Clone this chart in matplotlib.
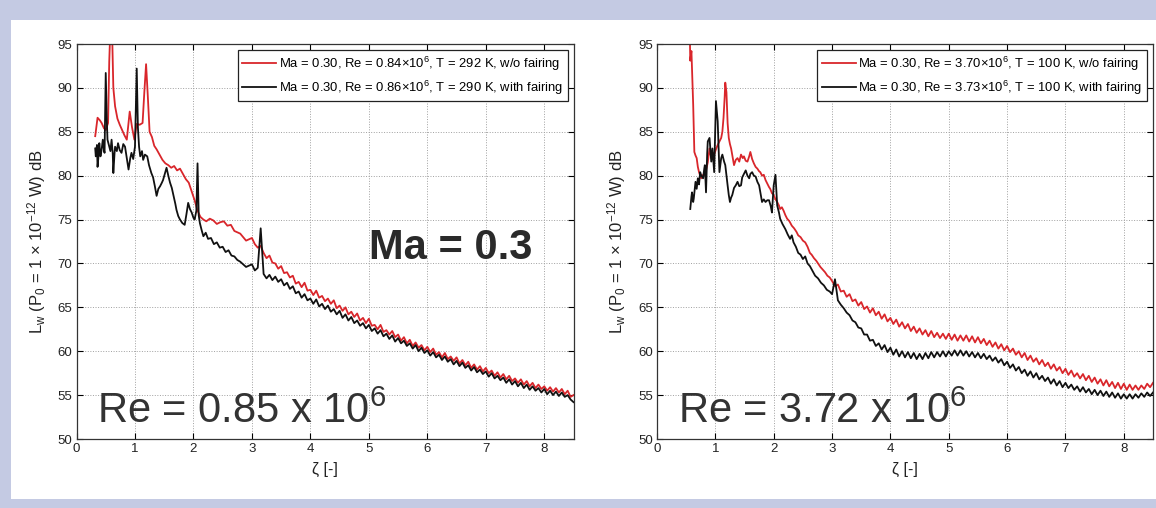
import matplotlib
matplotlib.use("Agg")
import matplotlib.pyplot as plt
from matplotlib.patches import Rectangle

plt.rcParams['font.family'] = ['Liberation Sans', 'DejaVu Sans']
plt.rcParams['mathtext.default'] = 'regular'

# ---- data (zeta [-], L_w [dB]) ----
# low-zeta part of each curve, irregular spacing around the tonal peaks
z_red_l = [0.32, 0.36, 0.40, 0.43, 0.47, 0.50, 0.54, 0.56, 0.58, 0.61, 0.63, 0.66, 0.70, 0.74, 0.78,
           0.82, 0.86, 0.91, 0.95, 0.99, 1.03, 1.08, 1.13, 1.16, 1.19, 1.22, 1.25, 1.29, 1.33, 1.37,
           1.42, 1.47, 1.52, 1.57, 1.62, 1.67, 1.72, 1.77, 1.82, 1.87, 1.92, 1.97, 2.02, 2.07, 2.12,
           2.17, 2.22, 2.28, 2.34, 2.40, 2.46, 2.52, 2.58, 2.64, 2.70, 2.80, 2.90]
L_red_l = [84.5, 86.6, 86.3, 86.0, 85.4, 85.2, 86.0, 93.0, 97.0, 96.0, 90.0, 87.9, 86.5, 85.8, 85.2,
           84.6, 84.1, 87.3, 85.5, 84.1, 85.9, 85.8, 86.0, 89.5, 92.7, 89.0, 85.0, 84.4, 83.4, 83.0,
           82.4, 81.8, 81.4, 81.2, 80.9, 81.1, 80.6, 80.8, 80.2, 79.6, 79.2, 78.2, 77.2, 76.0, 75.3,
           75.0, 74.8, 75.1, 74.9, 74.5, 74.7, 74.8, 74.3, 74.4, 73.7, 73.4, 72.6]

z_blk_l = [0.32, 0.33, 0.35, 0.36, 0.38, 0.39, 0.41, 0.43, 0.45, 0.47, 0.48, 0.50, 0.52, 0.53, 0.56,
           0.58, 0.60, 0.62, 0.63, 0.65, 0.66, 0.69, 0.71, 0.74, 0.77, 0.80, 0.83, 0.86, 0.89, 0.92,
           0.94, 0.97, 1.00, 1.03, 1.05, 1.07, 1.09, 1.12, 1.14, 1.17, 1.21, 1.24, 1.28, 1.31, 1.34,
           1.37, 1.40, 1.43, 1.46, 1.48, 1.51, 1.54, 1.57, 1.60, 1.63, 1.66, 1.69, 1.71, 1.74, 1.77,
           1.81, 1.85, 1.88, 1.91, 1.94, 1.97, 2.00, 2.02, 2.05, 2.07, 2.09, 2.11, 2.14, 2.17, 2.21,
           2.25, 2.30, 2.35, 2.40, 2.45, 2.50, 2.55, 2.60, 2.65, 2.70, 2.75, 2.80, 2.90]
L_blk_l = [83.1, 82.2, 83.5, 81.0, 82.5, 83.7, 82.2, 83.0, 84.1, 82.9, 82.6, 91.7, 86.0, 84.1, 83.3,
           82.8, 84.1, 82.5, 80.3, 82.5, 83.3, 82.8, 83.7, 82.9, 82.6, 83.6, 83.3, 82.0, 80.7, 82.0,
           82.6, 81.9, 83.3, 92.2, 85.5, 83.3, 82.2, 82.8, 81.8, 82.4, 82.2, 81.2, 80.3, 79.8, 78.8,
           77.7, 78.5, 78.8, 79.2, 79.5, 80.2, 80.9, 80.0, 79.2, 78.6, 77.7, 76.8, 76.1, 75.4, 75.0,
           74.6, 74.4, 75.6, 76.9, 76.2, 75.8, 75.2, 75.0, 76.0, 81.4, 75.5, 74.6, 73.8, 73.1, 73.5,
           72.8, 72.9, 72.2, 72.4, 71.8, 71.9, 71.3, 71.5, 70.9, 70.8, 70.4, 70.2, 69.6]

z_red_r = [0.56, 0.57, 0.59, 0.61, 0.62, 0.64, 0.66, 0.68, 0.70, 0.72, 0.74, 0.76, 0.79, 0.82, 0.84,
           0.87, 0.90, 0.93, 0.96, 0.98, 1.01, 1.04, 1.07, 1.10, 1.12, 1.14, 1.16, 1.17, 1.19, 1.21,
           1.23, 1.25, 1.27, 1.30, 1.32, 1.35, 1.38, 1.41, 1.44, 1.47, 1.49, 1.52, 1.55, 1.58, 1.60,
           1.63, 1.66, 1.69, 1.72, 1.75, 1.77, 1.80, 1.83, 1.86, 1.89, 1.92, 1.94, 1.97, 2.00, 2.03,
           2.06, 2.09, 2.11, 2.14, 2.17, 2.20, 2.23, 2.27, 2.31, 2.35, 2.39, 2.42, 2.46, 2.50, 2.54,
           2.58, 2.62, 2.65, 2.69, 2.73, 2.76, 2.80, 2.84, 2.88, 2.92, 2.96]
L_red_r = [97.0, 93.1, 94.2, 90.0, 88.1, 82.7, 82.3, 82.0, 81.0, 80.4, 80.0, 79.7, 80.1, 80.3, 80.6,
           81.5, 83.1, 82.0, 82.6, 82.4, 83.0, 83.5, 83.9, 84.3, 85.0, 86.6, 89.0, 90.6, 89.5, 86.0,
           84.3, 83.6, 83.1, 82.0, 81.2, 81.8, 82.0, 81.6, 82.4, 82.0, 82.2, 81.7, 81.6, 82.2, 82.7,
           81.9, 81.4, 81.0, 80.8, 80.5, 80.4, 80.0, 80.1, 79.5, 79.1, 78.7, 78.5, 78.0, 77.8, 77.3,
           77.0, 76.6, 76.2, 76.4, 76.0, 75.5, 75.1, 74.8, 74.3, 74.0, 73.6, 73.2, 73.0, 72.6, 72.4,
           71.9, 71.2, 71.0, 70.6, 70.3, 70.0, 69.6, 69.3, 69.0, 68.6, 68.4]

z_blk_r = [0.57, 0.59, 0.60, 0.62, 0.63, 0.65, 0.66, 0.68, 0.70, 0.72, 0.74, 0.76, 0.79, 0.81, 0.82,
           0.84, 0.86, 0.87, 0.90, 0.93, 0.95, 0.98, 1.01, 1.04, 1.07, 1.10, 1.12, 1.15, 1.17, 1.19,
           1.21, 1.23, 1.25, 1.27, 1.29, 1.32, 1.35, 1.38, 1.41, 1.44, 1.46, 1.49, 1.52, 1.55, 1.58,
           1.60, 1.63, 1.66, 1.69, 1.72, 1.75, 1.78, 1.80, 1.83, 1.86, 1.89, 1.92, 1.95, 1.97, 2.00,
           2.03, 2.06, 2.09, 2.11, 2.15, 2.20, 2.24, 2.28, 2.31, 2.34, 2.38, 2.42, 2.46, 2.50, 2.54,
           2.58, 2.62, 2.66, 2.71, 2.76, 2.81, 2.86, 2.91, 2.96]
L_blk_r = [76.2, 77.6, 78.1, 77.0, 77.4, 78.6, 79.3, 78.5, 79.7, 79.0, 80.4, 80.0, 79.7, 80.8, 81.2,
           78.1, 82.5, 83.9, 84.3, 81.6, 83.1, 80.4, 88.5, 86.2, 80.4, 82.0, 82.4, 81.6, 81.2, 80.0,
           78.9, 77.8, 77.0, 77.5, 77.8, 78.6, 78.9, 79.3, 78.8, 78.9, 79.8, 80.2, 80.6, 80.0, 79.7,
           80.2, 80.4, 80.0, 79.9, 79.3, 78.9, 77.8, 77.0, 77.3, 77.0, 77.2, 77.2, 76.5, 75.8, 78.9,
           80.1, 76.6, 75.8, 75.1, 74.5, 73.9, 73.3, 72.8, 73.2, 72.4, 71.9, 71.2, 71.0, 70.5, 70.8,
           70.0, 69.7, 69.2, 68.6, 68.3, 67.8, 67.5, 67.0, 66.8]

# broadband tail, shared zeta grid 3.00 ... 8.50
zeta_tail = [3.00, 3.05, 3.10, 3.15, 3.20, 3.25, 3.30, 3.35, 3.40, 3.45,
             3.50, 3.55, 3.60, 3.65, 3.70, 3.75, 3.80, 3.85, 3.90, 3.95,
             4.00, 4.05, 4.10, 4.15, 4.20, 4.25, 4.30, 4.35, 4.40, 4.45,
             4.50, 4.55, 4.60, 4.65, 4.70, 4.75, 4.80, 4.85, 4.90, 4.95,
             5.00, 5.05, 5.10, 5.15, 5.20, 5.25, 5.30, 5.35, 5.40, 5.45,
             5.50, 5.55, 5.60, 5.65, 5.70, 5.75, 5.80, 5.85, 5.90, 5.95,
             6.00, 6.05, 6.10, 6.15, 6.20, 6.25, 6.30, 6.35, 6.40, 6.45,
             6.50, 6.55, 6.60, 6.65, 6.70, 6.75, 6.80, 6.85, 6.90, 6.95,
             7.00, 7.05, 7.10, 7.15, 7.20, 7.25, 7.30, 7.35, 7.40, 7.45,
             7.50, 7.55, 7.60, 7.65, 7.70, 7.75, 7.80, 7.85, 7.90, 7.95,
             8.00, 8.05, 8.10, 8.15, 8.20, 8.25, 8.30, 8.35, 8.40, 8.45,
             8.50]
tail_red_l = [72.9, 72.2, 71.8, 72.0, 71.2, 70.6, 70.9, 70.1, 70.0, 69.4,
              69.7, 68.9, 69.0, 68.4, 68.6, 67.7, 67.9, 67.3, 67.8, 66.9,
              67.0, 66.4, 66.9, 66.1, 66.3, 65.7, 66.0, 65.4, 65.8, 64.9,
              65.2, 64.6, 65.0, 64.2, 64.5, 63.9, 64.3, 63.5, 63.8, 63.2,
              63.7, 62.9, 63.0, 62.5, 63.0, 62.2, 62.4, 61.9, 62.3, 61.6,
              61.9, 61.2, 61.6, 60.9, 61.3, 60.6, 61.0, 60.4, 60.7, 60.1,
              60.5, 59.9, 60.3, 59.6, 59.9, 59.3, 59.8, 59.1, 59.4, 58.9,
              59.3, 58.6, 59.0, 58.4, 58.8, 58.1, 58.5, 57.9, 58.3, 57.7,
              58.1, 57.5, 57.8, 57.2, 57.6, 57.0, 57.4, 56.8, 57.2, 56.6,
              56.9, 56.4, 56.8, 56.2, 56.6, 56.0, 56.4, 55.8, 56.2, 55.7,
              56.0, 55.5, 55.9, 55.4, 55.8, 55.3, 55.7, 55.1, 55.5, 54.8,
              55.0]
tail_blk_l = [69.9, 69.2, 69.5, 74.0, 68.8, 68.3, 68.7, 68.1, 68.5, 67.9,
              68.2, 67.5, 67.8, 67.1, 67.4, 66.6, 66.8, 66.1, 66.5, 65.8,
              66.0, 65.4, 65.9, 65.1, 65.4, 64.8, 65.2, 64.5, 64.8, 64.2,
              64.6, 63.8, 64.2, 63.5, 63.9, 63.2, 63.5, 62.9, 63.2, 62.6,
              63.0, 62.3, 62.6, 62.0, 62.4, 61.7, 62.0, 61.4, 61.8, 61.1,
              61.5, 60.9, 61.2, 60.6, 60.9, 60.3, 60.7, 60.0, 60.4, 59.8,
              60.1, 59.5, 59.9, 59.3, 59.6, 59.0, 59.4, 58.8, 59.1, 58.5,
              58.9, 58.3, 58.7, 58.1, 58.4, 57.8, 58.2, 57.6, 57.9, 57.4,
              57.7, 57.1, 57.5, 56.9, 57.2, 56.7, 57.0, 56.4, 56.8, 56.2,
              56.6, 56.0, 56.4, 55.8, 56.2, 55.6, 56.0, 55.5, 55.8, 55.3,
              55.7, 55.1, 55.5, 55.0, 55.4, 54.9, 55.3, 54.8, 55.0, 54.5,
              54.2]
tail_red_r = [68.0, 67.4, 67.6, 66.8, 66.9, 66.2, 66.5, 65.7, 65.9, 65.2,
              65.6, 64.8, 65.1, 64.4, 64.9, 64.1, 64.5, 63.7, 64.2, 63.4,
              63.8, 63.1, 63.6, 62.8, 63.3, 62.6, 63.1, 62.3, 62.8, 62.1,
              62.6, 61.9, 62.4, 61.7, 62.3, 61.6, 62.1, 61.5, 62.0, 61.4,
              62.0, 61.3, 61.9, 61.2, 61.8, 61.2, 61.8, 61.1, 61.7, 61.0,
              61.6, 60.9, 61.4, 60.7, 61.2, 60.5, 61.0, 60.3, 60.8, 60.1,
              60.6, 59.9, 60.3, 59.6, 60.0, 59.3, 59.8, 59.0, 59.5, 58.8,
              59.2, 58.5, 59.0, 58.3, 58.7, 58.0, 58.5, 57.8, 58.2, 57.5,
              58.0, 57.3, 57.8, 57.1, 57.5, 56.9, 57.4, 56.7, 57.2, 56.5,
              57.0, 56.3, 56.8, 56.1, 56.7, 56.0, 56.5, 55.8, 56.4, 55.7,
              56.3, 55.6, 56.2, 55.6, 56.1, 55.6, 56.1, 55.7, 56.3, 55.9,
              56.4]
tail_blk_r = [66.5, 68.2, 65.8, 65.3, 64.9, 64.4, 64.1, 63.5, 63.3, 62.7,
              62.6, 61.9, 61.9, 61.2, 61.3, 60.6, 60.9, 60.2, 60.7, 59.9,
              60.4, 59.6, 60.2, 59.4, 60.0, 59.3, 59.9, 59.2, 59.8, 59.1,
              59.7, 59.1, 59.8, 59.2, 59.9, 59.3, 59.9, 59.4, 60.0, 59.4,
              60.0, 59.5, 60.1, 59.5, 60.1, 59.5, 60.0, 59.4, 59.9, 59.3,
              59.8, 59.2, 59.7, 59.1, 59.5, 58.9, 59.3, 58.7, 59.1, 58.4,
              58.8, 58.1, 58.5, 57.8, 58.2, 57.5, 57.9, 57.2, 57.7, 57.0,
              57.5, 56.8, 57.2, 56.6, 57.0, 56.3, 56.8, 56.1, 56.6, 55.9,
              56.4, 55.8, 56.2, 55.6, 56.0, 55.4, 55.9, 55.3, 55.7, 55.1,
              55.6, 55.0, 55.5, 54.9, 55.4, 54.8, 55.3, 54.7, 55.2, 54.6,
              55.1, 54.6, 55.1, 54.6, 55.1, 54.7, 55.2, 54.8, 55.3, 54.9,
              55.3]

legend_l = ["Ma = 0.30, Re = 0.84×10$^6$, T = 292 K, w/o fairing",
            "Ma = 0.30, Re = 0.86×10$^6$, T = 290 K, with fairing"]
legend_r = ["Ma = 0.30, Re = 3.70×10$^6$, T = 100 K, w/o fairing",
            "Ma = 0.30, Re = 3.73×10$^6$, T = 100 K, with fairing"]
re_text = ["Re = 0.85 x 10$^6$", "Re = 3.72 x 10$^6$"]

RED = '#d9262b'
BG = '#c4cae3'

fig = plt.figure(figsize=(11.56, 5.08), dpi=100, facecolor=BG)
fig.patches.append(Rectangle((11 / 1156, 9 / 508), 1.0, 479 / 508, transform=fig.transFigure,
                             facecolor='white', edgecolor='none', zorder=-10))

ax1 = fig.add_axes([76.5 / 1156, 69 / 508, 497 / 1156, 395 / 508])
ax2 = fig.add_axes([657 / 1156, 69 / 508, 496 / 1156, 395 / 508])

panels = [(ax1, z_red_l, L_red_l, tail_red_l, z_blk_l, L_blk_l, tail_blk_l, legend_l, re_text[0]),
          (ax2, z_red_r, L_red_r, tail_red_r, z_blk_r, L_blk_r, tail_blk_r, legend_r, re_text[1])]

for ax, zr, lr, tr, zb, lb, tb, leg, ret in panels:
    ax.plot(zr + zeta_tail, lr + tr, color=RED, lw=1.3, label=leg[0])
    ax.plot(zb + zeta_tail, lb + tb, color='#111111', lw=1.3, label=leg[1])
    ax.set_xlim(0, 8.5)
    ax.set_ylim(50, 95)
    ax.set_xticks(range(0, 9))
    ax.set_yticks(range(50, 96, 5))
    ax.grid(True, linestyle=':', color='#a0a0a0', lw=0.7)
    ax.tick_params(direction='in', top=True, right=True, length=4, labelsize=9.5,
                   labelcolor='#222222', pad=3)
    for s in ax.spines.values():
        s.set_linewidth(0.9)
        s.set_color('#333333')
    ax.set_xlabel('ζ [-]', fontsize=11.5, labelpad=5, color='#222222')
    ax.set_ylabel('$L_w$ ($P_0$ = 1 × 10$^{-12}$ W) dB', fontsize=12, labelpad=7, color='#222222')
    lg = ax.legend(loc='upper right', fontsize=9.4, frameon=True, fancybox=False,
                   edgecolor='#222222', framealpha=1, handlelength=2.6, handletextpad=0.2,
                   borderaxespad=0.45, borderpad=0.35, labelspacing=0.45)
    lg.get_frame().set_linewidth(0.9)
    ax.text(0.042, 0.04, ret, transform=ax.transAxes, fontsize=30, color='#333333')

ax1.text(0.588, 0.455, 'Ma = 0.3', transform=ax1.transAxes, fontsize=30,
         fontweight='bold', color='#2a2a2a')

fig.savefig('out.png', dpi=100, facecolor=BG)
